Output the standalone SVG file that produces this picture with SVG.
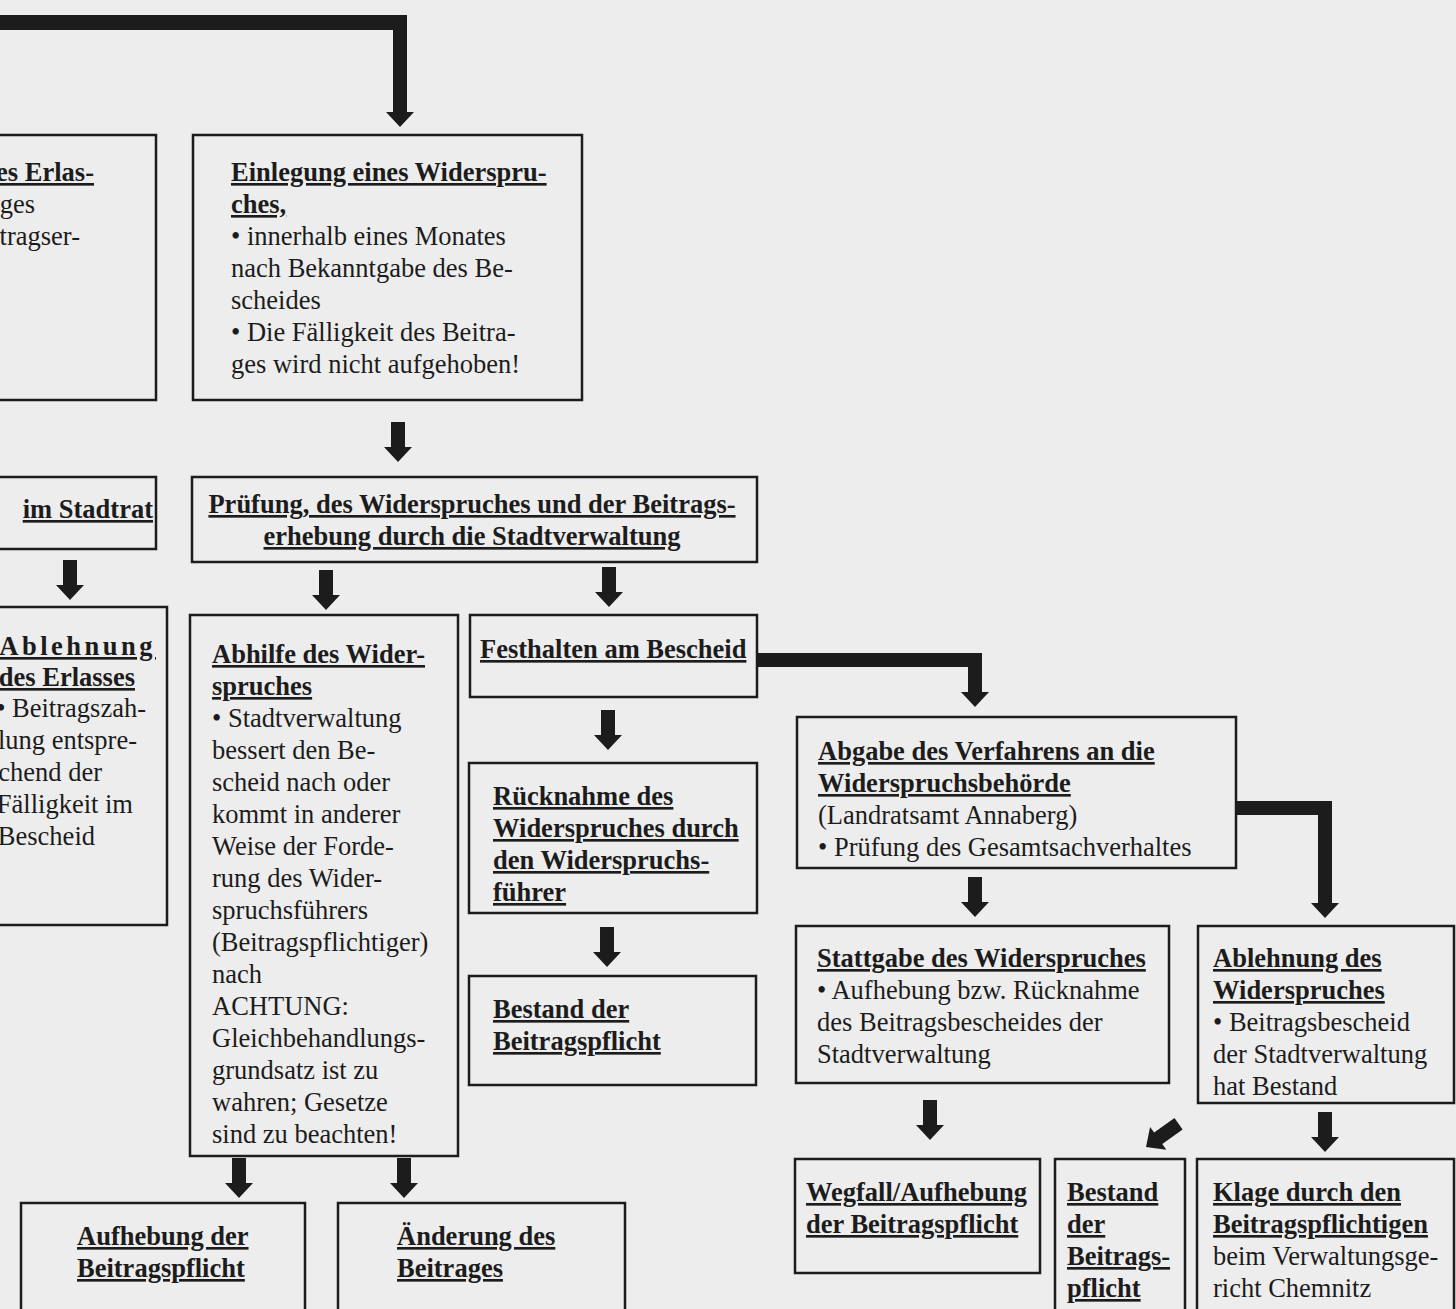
<svg xmlns="http://www.w3.org/2000/svg" xmlns:xlink="http://www.w3.org/1999/xlink" width="1456" height="1309" viewBox="0 0 1456 1309">
<style>
text{font-family:"Liberation Serif","Times New Roman",serif;font-size:26.5px;fill:#1c1c1c}
.t{font-weight:bold;text-decoration:underline}
.box{fill:none;stroke:#1c1c1c;stroke-width:2.5}
.arr{fill:#1c1c1c}
</style>
<defs>
<path id="ad" d="M-7,-40 H7 V-15 H14 L0,0 L-14,-15 H-7 Z"/>
</defs>
<rect x="0" y="0" width="1456" height="1309" fill="#ededed"/>

<g id="connectors" class="arr">
<path d="M0,15 H407 V112 H414 L400,127 L386,112 H393 V30 H0 Z"/>
<use xlink:href="#ad" href="#ad" x="398" y="462"/>
<use xlink:href="#ad" href="#ad" x="70" y="600"/>
<use xlink:href="#ad" href="#ad" x="326" y="610"/>
<use xlink:href="#ad" href="#ad" x="609" y="607"/>
<path d="M757,653 H982 V692 H989 L975,707 L961,692 H968 V667 H757 Z"/>
<use xlink:href="#ad" href="#ad" x="608" y="750"/>
<use xlink:href="#ad" href="#ad" x="607" y="967"/>
<use xlink:href="#ad" href="#ad" x="239" y="1198"/>
<use xlink:href="#ad" href="#ad" x="404" y="1198"/>
<use xlink:href="#ad" href="#ad" x="975" y="917"/>
<path d="M1236,801 H1332 V903 H1339 L1325,918 L1311,903 H1318 V815 H1236 Z"/>
<use xlink:href="#ad" href="#ad" x="930" y="1140"/>
<use xlink:href="#ad" href="#ad" transform="translate(1146,1147) rotate(54.5)"/>
<use xlink:href="#ad" href="#ad" x="1325" y="1152"/>
</g>

<g id="n-erlass-top">
<rect class="box" x="-5" y="135" width="161" height="265"/>
<text class="t" x="94" y="181" text-anchor="end">es Erlas-</text>
<text x="35" y="213" text-anchor="end">iges</text>
<text x="80" y="245" text-anchor="end">tragser-</text>
</g>

<g id="n-stadtrat">
<rect class="box" x="-5" y="477" width="161" height="72"/>
<text class="t" x="153" y="518" text-anchor="end">im Stadtrat</text>
</g>

<g id="n-ablehnung-erlass">
<rect class="box" x="-5" y="607" width="172" height="318"/>
<text class="t" x="156" y="655" text-anchor="end" letter-spacing="3.5">Ablehnung</text>
<text class="t" x="135" y="686" text-anchor="end">des Erlasses</text>
<text x="146" y="717" text-anchor="end">• Beitragszah-</text>
<text x="137" y="749" text-anchor="end">lung entspre-</text>
<text x="102" y="781" text-anchor="end">chend der</text>
<text x="133" y="813" text-anchor="end">Fälligkeit im</text>
<text x="95" y="845" text-anchor="end">Bescheid</text>
</g>

<g id="n-einlegung">
<rect class="box" x="193" y="135" width="389" height="265"/>
<text class="t" x="231" y="181">Einlegung eines Widerspru-</text>
<text class="t" x="231" y="213">ches,</text>
<text x="231" y="245">• innerhalb eines Monates</text>
<text x="231" y="277">nach Bekanntgabe des Be-</text>
<text x="231" y="309">scheides</text>
<text x="231" y="341">• Die Fälligkeit des Beitra-</text>
<text x="231" y="373">ges wird nicht aufgehoben!</text>
</g>

<g id="n-pruefung">
<rect class="box" x="192" y="477" width="565" height="85"/>
<text class="t" x="472" y="513" text-anchor="middle">Prüfung, des Widerspruches und der Beitrags-</text>
<text class="t" x="472" y="545" text-anchor="middle">erhebung durch die Stadtverwaltung</text>
</g>

<g id="n-abhilfe">
<rect class="box" x="190" y="615" width="268" height="541"/>
<text class="t" x="212" y="663">Abhilfe des Wider-</text>
<text class="t" x="212" y="695">spruches</text>
<text x="212" y="727">• Stadtverwaltung</text>
<text x="212" y="759">bessert den Be-</text>
<text x="212" y="791">scheid nach oder</text>
<text x="212" y="823">kommt in anderer</text>
<text x="212" y="855">Weise der Forde-</text>
<text x="212" y="887">rung des Wider-</text>
<text x="212" y="919">spruchsführers</text>
<text x="212" y="951">(Beitragspflichtiger)</text>
<text x="212" y="983">nach</text>
<text x="212" y="1015">ACHTUNG:</text>
<text x="212" y="1047">Gleichbehandlungs-</text>
<text x="212" y="1079">grundsatz ist zu</text>
<text x="212" y="1111">wahren; Gesetze</text>
<text x="212" y="1143">sind zu beachten!</text>
</g>

<g id="n-festhalten">
<rect class="box" x="470" y="615" width="287" height="82"/>
<text class="t" x="480" y="658">Festhalten am Bescheid</text>
</g>

<g id="n-ruecknahme">
<rect class="box" x="469" y="763" width="288" height="150"/>
<text class="t" x="493" y="805">Rücknahme des</text>
<text class="t" x="493" y="837">Widerspruches durch</text>
<text class="t" x="493" y="869">den Widerspruchs-</text>
<text class="t" x="493" y="901">führer</text>
</g>

<g id="n-bestand1">
<rect class="box" x="469" y="976" width="287" height="109"/>
<text class="t" x="493" y="1018">Bestand der</text>
<text class="t" x="493" y="1050">Beitragspflicht</text>
</g>

<g id="n-aufhebung">
<rect class="box" x="21" y="1203" width="284" height="130"/>
<text class="t" x="77" y="1245">Aufhebung der</text>
<text class="t" x="77" y="1277">Beitragspflicht</text>
</g>

<g id="n-aenderung">
<rect class="box" x="338" y="1203" width="287" height="130"/>
<text class="t" x="397" y="1245">Änderung des</text>
<text class="t" x="397" y="1277">Beitrages</text>
</g>

<g id="n-abgabe">
<rect class="box" x="797" y="717" width="439" height="151"/>
<text class="t" x="818" y="760">Abgabe des Verfahrens an die</text>
<text class="t" x="818" y="792">Widerspruchsbehörde</text>
<text x="818" y="824">(Landratsamt Annaberg)</text>
<text x="818" y="856">• Prüfung des Gesamtsachverhaltes</text>
</g>

<g id="n-stattgabe">
<rect class="box" x="796" y="926" width="373" height="157"/>
<text class="t" x="817" y="967">Stattgabe des Widerspruches</text>
<text x="817" y="999">• Aufhebung bzw. Rücknahme</text>
<text x="817" y="1031">des Beitragsbescheides der</text>
<text x="817" y="1063">Stadtverwaltung</text>
</g>

<g id="n-ablehnung-widerspruch">
<rect class="box" x="1198" y="926" width="256" height="177"/>
<text class="t" x="1213" y="967">Ablehnung des</text>
<text class="t" x="1213" y="999">Widerspruches</text>
<text x="1213" y="1031">• Beitragsbescheid</text>
<text x="1213" y="1063">der Stadtverwaltung</text>
<text x="1213" y="1095">hat Bestand</text>
</g>

<g id="n-wegfall">
<rect class="box" x="795" y="1159" width="245" height="114"/>
<text class="t" x="806" y="1201">Wegfall/Aufhebung</text>
<text class="t" x="806" y="1233">der Beitragspflicht</text>
</g>

<g id="n-bestand2">
<rect class="box" x="1055" y="1159" width="130" height="170"/>
<text class="t" x="1067" y="1201">Bestand</text>
<text class="t" x="1067" y="1233">der</text>
<text class="t" x="1067" y="1265">Beitrags-</text>
<text class="t" x="1067" y="1297">pflicht</text>
</g>

<g id="n-klage">
<rect class="box" x="1197" y="1159" width="257" height="170"/>
<text class="t" x="1213" y="1201">Klage durch den</text>
<text class="t" x="1213" y="1233">Beitragspflichtigen</text>
<text x="1213" y="1265">beim Verwaltungsge-</text>
<text x="1213" y="1297">richt Chemnitz</text>
</g>
</svg>
